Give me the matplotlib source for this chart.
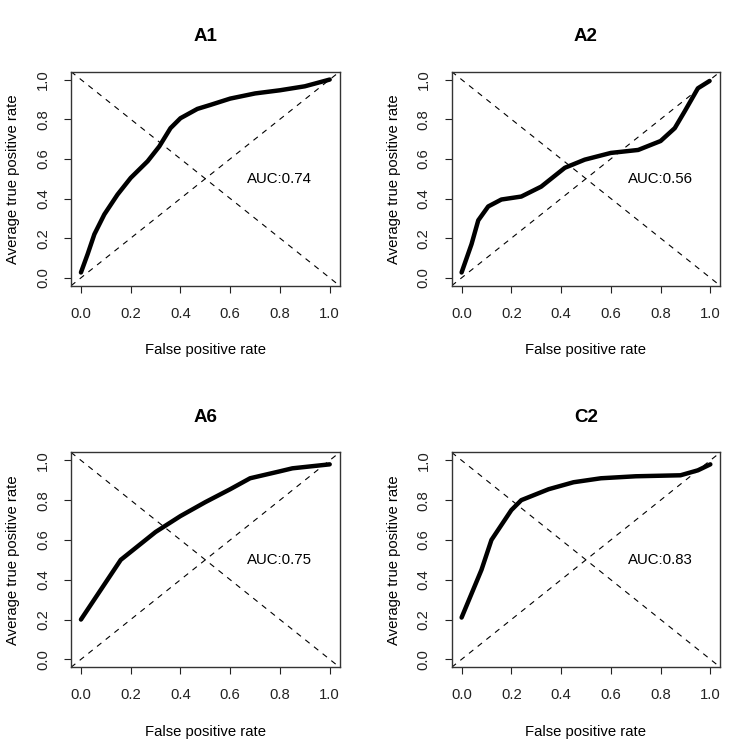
import matplotlib
matplotlib.use("Agg")
import matplotlib.pyplot as plt

plt.rcParams['font.family'] = ['Liberation Sans', 'DejaVu Sans']

# ROC curves (false positive rate, average true positive rate)
a1_fpr = [0.0, 0.027, 0.054, 0.094, 0.147, 0.2, 0.268, 0.315, 0.36, 0.4, 0.468, 0.52, 0.6, 0.7, 0.8, 0.9, 1.0]
a1_tpr = [0.027, 0.12, 0.22, 0.32, 0.42, 0.504, 0.588, 0.663, 0.755, 0.805, 0.852, 0.872, 0.904, 0.93, 0.946, 0.966, 1.0]

a2_fpr = [0.0, 0.04, 0.067, 0.107, 0.16, 0.24, 0.32, 0.415, 0.495, 0.6, 0.71, 0.8, 0.857, 0.897, 0.95, 0.997]
a2_tpr = [0.027, 0.17, 0.29, 0.36, 0.395, 0.41, 0.46, 0.555, 0.596, 0.63, 0.645, 0.69, 0.755, 0.84, 0.956, 0.993]

a6_fpr = [0.0, 0.16, 0.2, 0.3, 0.4, 0.5, 0.6, 0.68, 0.8, 0.85, 1.0]
a6_tpr = [0.2, 0.5, 0.54, 0.64, 0.72, 0.79, 0.855, 0.91, 0.945, 0.96, 0.98]

c2_fpr = [0.0, 0.08, 0.12, 0.2, 0.24, 0.3, 0.35, 0.45, 0.56, 0.7, 0.88, 0.95, 1.0]
c2_tpr = [0.21, 0.45, 0.6, 0.75, 0.8, 0.83, 0.855, 0.89, 0.91, 0.92, 0.925, 0.95, 0.98]

titles = ["A1", "A2", "A6", "C2"]
aucs = ["0.74", "0.56", "0.75", "0.83"]
curves = [(a1_fpr, a1_tpr), (a2_fpr, a2_tpr), (a6_fpr, a6_tpr), (c2_fpr, c2_tpr)]
ticks = [0.0, 0.2, 0.4, 0.6, 0.8, 1.0]

fig = plt.figure(figsize=(7.32, 7.54), dpi=100)

# axes boxes in figure fractions (left, bottom, width, height)
boxes = [
    (0.097, 0.621, 0.367, 0.284),
    (0.617, 0.621, 0.367, 0.284),
    (0.097, 0.115, 0.367, 0.285),
    (0.617, 0.115, 0.367, 0.285),
]

for box, title, auc, (fpr, tpr) in zip(boxes, titles, aucs, curves):
    ax = fig.add_axes(box)
    ax.set_xlim(-0.04, 1.04)
    ax.set_ylim(-0.04, 1.04)

    # chance lines
    ax.axline((0, 0), (1, 1), color="black", lw=0.8, dashes=(5, 5))
    ax.axline((0, 1), (1, 0), color="black", lw=0.8, dashes=(5, 5))

    ax.plot(fpr, tpr, color="black", lw=3.2, solid_capstyle="round", solid_joinstyle="round")

    ax.text(0.8, 0.5, "AUC:" + auc, ha="center", va="center", fontsize=10.8)

    ax.set_xticks(ticks)
    ax.set_yticks(ticks)
    ax.set_xticklabels([f"{t:.1f}" for t in ticks])
    ax.set_yticklabels([f"{t:.1f}" for t in ticks], rotation=90, va="center")
    ax.tick_params(direction="out", length=5, width=0.8, labelsize=10.7, pad=10, colors="#222222")
    for s in ax.spines.values():
        s.set_linewidth(1.0)
        s.set_color("#333333")

    ax.set_xlabel("False positive rate", fontsize=10.7, va="center")
    ax.xaxis.set_label_coords(0.5, -0.30)
    ax.set_ylabel("Average true positive rate", fontsize=10.7, va="center")
    ax.yaxis.set_label_coords(-0.216, 0.5)

    ax.text(0.5, 1.163, title, transform=ax.transAxes, ha="center", va="center",
            fontsize=13.5, fontweight="bold")

fig.savefig("out.png", dpi=100)
